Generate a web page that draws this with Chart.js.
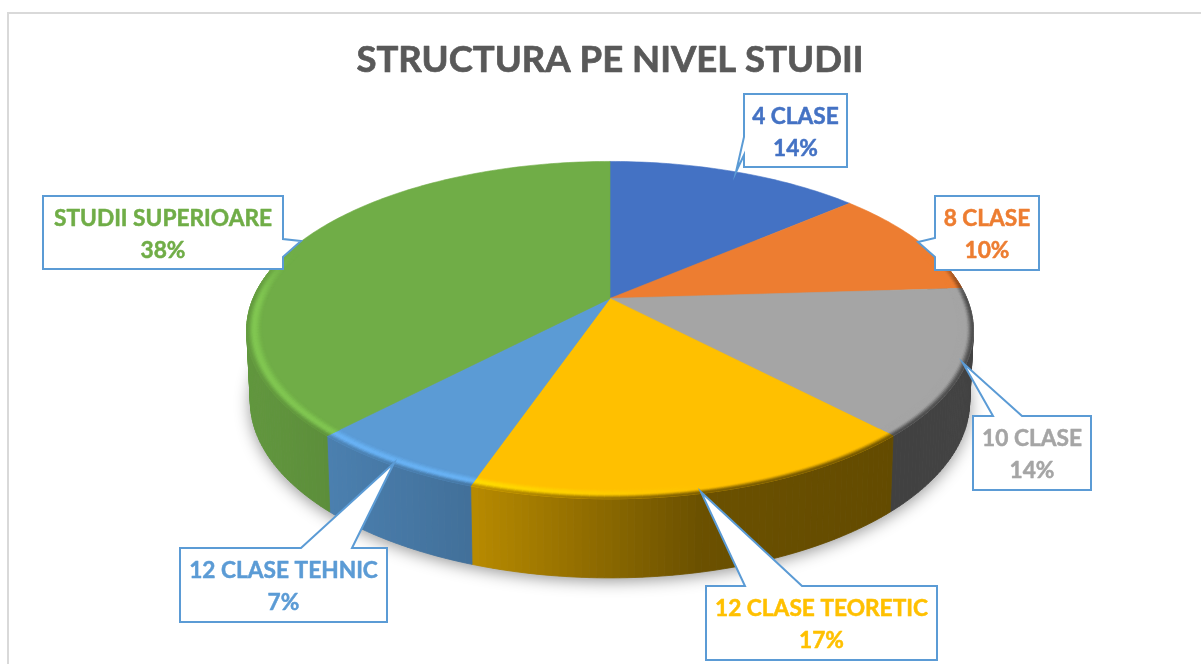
<!DOCTYPE html>
<html><head><meta charset="utf-8">
<style>html,body{margin:0;padding:0;background:#fff}canvas{display:block}</style>
<script src="https://cdn.jsdelivr.net/npm/chart.js@4"></script>
</head><body>
<canvas id="c" width="1201" height="664"></canvas>
<script>
const chartTitle = 'STRUCTURA PE NIVEL STUDII';
const categories = ['4 CLASE','8 CLASE','10 CLASE','12 CLASE TEORETIC','12 CLASE TEHNIC','STUDII SUPERIOARE'];
const shares = [13.6,10.4,14,17.2,6.8,38];
const percentLabels = ['14%','10%','14%','17%','7%','38%'];
const sliceColors = ['#4472C4','#ED7D31','#A5A5A5','#FFC000','#5B9BD5','#70AD47'];

// callout geometry: [left, top, right, bottom], wedge [base1, tip, base2]
const callouts = [
  {box:[744,94,847,167], wedge:[[744,137],[736,172],[744,155]]},
  {box:[935,196,1039,270], wedge:[[935,238],[918,242],[935,257]]},
  {box:[973,416,1091,490], wedge:[[993,416],[963,363],[1022,416]]},
  {box:[706,586,937,660], wedge:[[745,586],[701,492],[802,586]]},
  {box:[180,548,387,622], wedge:[[301,548],[394,463],[352,548]]},
  {box:[43,196,283,269], wedge:[[283,239],[301,241],[283,257]]}
];

// perspective projection of the pie disc
const K = 0.188, RX = 357.5 / 217, RY = 163 / 217;
const DROP = 69.5, SX = 0.99, SY = 1.048;
const wallStops = [[250,.87],[330,.82],[473,.72],[600,.55],[700,.42],[890,.39],[980,.41]];

const rgb = h => [1,3,5].map(i => parseInt(h.substr(i,2),16));
const css = c => `rgb(${c.map(v=>Math.round(Math.max(0,Math.min(255,v)))).join(',')})`;
const mul = (c,f) => c.map(v=>v*f);
const mix = (a,b,t) => a.map((v,i)=>v+(b[i]-v)*t);
const clamp = v => Math.max(0,Math.min(1,v));
const smooth = t => t*t*(3-2*t);

function wallFactor(x){
  if (x<=wallStops[0][0]) return wallStops[0][1];
  for (let i=1;i<wallStops.length;i++){
    if (x<=wallStops[i][0]){
      const [x0,f0]=wallStops[i-1],[x1,f1]=wallStops[i];
      return f0+(f1-f0)*(x-x0)/(x1-x0);
    }
  }
  return wallStops[wallStops.length-1][1];
}

const pie3d = {
  id:'pie3d',
  beforeDraw(chart){
    const ctx=chart.ctx;
    ctx.save();
    ctx.fillStyle='#fff';ctx.fillRect(0,0,chart.width,chart.height);
    ctx.fillStyle='#d9d9d9';
    ctx.fillRect(7,12,1194,2);
    ctx.fillRect(7,12,2,652);
    ctx.restore();
  },
  beforeDatasetsDraw(chart){
    const ctx=chart.ctx, arcs=chart.getDatasetMeta(0).data;
    const cx=arcs[0].x, cy=arcs[0].y, R=arcs[0].outerRadius;
    const P=(a,r=1)=>{
      const u=r*Math.cos(a), v=r*Math.sin(a), w=1-K*v;
      return [cx+R*RX*u/w, cy+R*RY*v/w];
    };
    const B=(a)=>{
      const p=P(a);
      return [cx+(p[0]-cx)*SX, cy+DROP+(p[1]-cy)*SY];
    };
    const quad=(pts,col)=>{
      ctx.beginPath();
      pts.forEach((p,i)=>i?ctx.lineTo(p[0],p[1]):ctx.moveTo(p[0],p[1]));
      ctx.closePath();
      ctx.fillStyle=col;ctx.strokeStyle=col;ctx.lineWidth=.8;
      ctx.fill();ctx.stroke();
    };
    const STEP=Math.PI/180;
    ctx.save();
    // cast shadow under the disc
    ctx.save();
    ctx.shadowColor='rgba(0,0,0,.42)';ctx.shadowBlur=16;ctx.shadowOffsetY=3;
    ctx.fillStyle='#999';
    ctx.beginPath();
    for(let d=0;d<360;d+=2){const p=B(d*STEP);d?ctx.lineTo(p[0],p[1]):ctx.moveTo(p[0],p[1]);}
    ctx.closePath();ctx.fill();
    ctx.restore();
    // side wall
    arcs.forEach((el,i)=>{
      const base=rgb(sliceColors[i]);
      const n=Math.max(1,Math.ceil((el.endAngle-el.startAngle)/STEP));
      const st=(el.endAngle-el.startAngle)/n;
      for(let k=0;k<n;k++){
        const a0=el.startAngle+k*st,a1=a0+st;
        if(Math.sin(a0)<-.3&&Math.sin(a1)<-.3) continue;
        const p0=P(a0),p1=P(a1),q0=B(a0),q1=B(a1);
        quad([p0,p1,q1,q0],css(mul(base,wallFactor((p0[0]+p1[0])/2))));
      }
    });
    // top faces
    arcs.forEach((el,i)=>{
      ctx.beginPath();
      ctx.moveTo(cx,cy);
      const n=Math.ceil((el.endAngle-el.startAngle)/STEP);
      for(let k=0;k<=n;k++){
        const p=P(el.startAngle+(el.endAngle-el.startAngle)*k/n);
        ctx.lineTo(p[0],p[1]);
      }
      ctx.closePath();
      ctx.fillStyle=sliceColors[i];ctx.strokeStyle=sliceColors[i];ctx.lineWidth=.6;
      ctx.fill();ctx.stroke();
    });
    // bevelled rim
    const RINGS=12, INNER=.958;
    arcs.forEach((el,i)=>{
      const base=rgb(sliceColors[i]);
      const n=Math.max(1,Math.ceil((el.endAngle-el.startAngle)/STEP));
      const st=(el.endAngle-el.startAngle)/n;
      for(let k=0;k<n;k++){
        const a0=el.startAngle+k*st,a1=a0+st,am=(a0+a1)/2;
        const strength=clamp((Math.sin(am)+.3)/.3);
        if(strength<=0) continue;
        const x=P(am)[0];
        const wall=mul(base,wallFactor(x));
        const hi=clamp((720-x)/260);
        const bright=mul(base,1+.15*hi).map(v=>Math.min(255,v));
        for(let r=0;r<RINGS;r++){
          const u0=INNER+(1-INNER)*r/RINGS,u1=INNER+(1-INNER)*(r+1)/RINGS,t=(r+.5)/RINGS;
          const peak=.55;
          let col = t<peak ? mix(base,bright,smooth(t/peak)) : mix(bright,wall,.9*smooth((t-peak)/(1-peak)));
          col=mix(base,col,strength);
          quad([P(a0,u0),P(a1,u0),P(a1,u1),P(a0,u1)],css(col));
        }
      }
    });
    ctx.restore();
    return false;
  },
  afterDraw(chart){
    const ctx=chart.ctx;
    ctx.save();
    // thicken the title outline to the reference weight
    const tb=chart.titleBlock;
    ctx.font='bold 36.5px Lato';
    ctx.textAlign='center';ctx.textBaseline='middle';
    ctx.strokeStyle='#595959';ctx.lineWidth=.7;ctx.lineJoin='round';
    ctx.strokeText(chartTitle,(tb.left+tb.right)/2,tb.top+38+36.5*1.2/2);
    callouts.forEach((c,i)=>{
      const [l,t,r,b]=c.box, [w0,w1,w2]=c.wedge;
      let seq;
      if(w0[1]===t) seq=[[l,t],w0,w1,w2,[r,t],[r,b],[l,b]];
      else if(w0[0]===r) seq=[[l,t],[r,t],w0,w1,w2,[r,b],[l,b]];
      else seq=[[l,t],[r,t],[r,b],[l,b],w2,w1,w0];
      ctx.beginPath();
      seq.forEach((p,j)=>j?ctx.lineTo(p[0],p[1]):ctx.moveTo(p[0],p[1]));
      ctx.closePath();
      ctx.fillStyle='#fff';ctx.fill();
      ctx.strokeStyle='#5B9BD5';ctx.lineWidth=2;ctx.lineJoin='miter';ctx.stroke();
      ctx.fillStyle=sliceColors[i];ctx.strokeStyle=sliceColors[i];
      ctx.font='bold 22.7px Lato';
      ctx.lineWidth=.5;ctx.lineJoin='round';
      ctx.textAlign='center';ctx.textBaseline='middle';
      const mx=(l+r)/2;
      ctx.fillText(categories[i],mx,t+22.5);ctx.strokeText(categories[i],mx,t+22.5);
      ctx.fillText(percentLabels[i],mx,t+54.5);ctx.strokeText(percentLabels[i],mx,t+54.5);
    });
    ctx.restore();
  }
};

new Chart(document.getElementById('c'),{
  type:'pie',
  data:{labels:categories,datasets:[{data:shares,backgroundColor:sliceColors,borderWidth:0}]},
  plugins:[pie3d],
  options:{
    responsive:false,animation:false,rotation:0,
    layout:{padding:{left:19,right:0,top:0,bottom:149}},
    plugins:{
      legend:{display:false},tooltip:{enabled:false},
      title:{display:true,text:chartTitle,color:'#595959',
        font:{family:'Lato',size:36.5,weight:'bold',lineHeight:1.2},
        padding:{top:38,bottom:0}}
    }
  }
});
</script>
</body></html>
